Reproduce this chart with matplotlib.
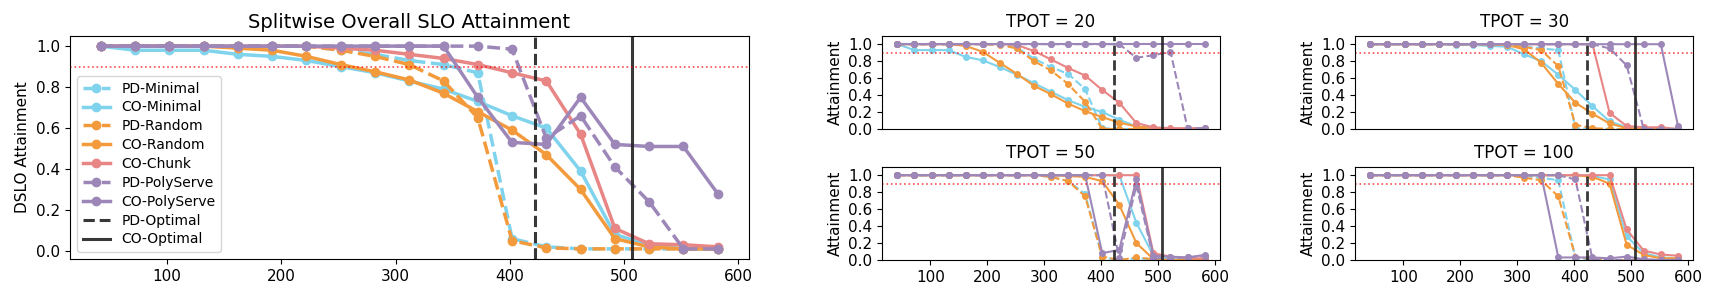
import matplotlib
matplotlib.use("Agg")
import matplotlib.pyplot as plt

# request rate points shared by every panel
rates = [42, 72, 102, 132, 162, 192, 222, 252, 282, 312, 342, 372, 402, 432, 462, 492, 522, 552, 582]

series_names = ["PD-Minimal", "CO-Minimal", "PD-Random", "CO-Random", "CO-Chunk", "PD-PolyServe", "CO-PolyServe"]
series_colors = ["#7fd3ed", "#7fd3ed", "#f39a3c", "#f39a3c", "#e88585", "#9c87b8", "#9c87b8"]

pd_optimal = 422
co_optimal = 507
slo_target = 0.9

overall = {
    "PD-Minimal": [1.0, 1.0, 1.0, 1.0, 1.0, 1.0, 1.0, 0.98, 0.96, 0.93, 0.91, 0.87, 0.06, 0.02, 0.01, 0.01, 0.01, 0.01, 0.01],
    "CO-Minimal": [1.0, 0.98, 0.98, 0.98, 0.96, 0.95, 0.93, 0.90, 0.87, 0.83, 0.79, 0.73, 0.66, 0.60, 0.39, 0.08, 0.03, 0.01, 0.01],
    "PD-Random": [1.0, 1.0, 1.0, 1.0, 1.0, 1.0, 1.0, 0.98, 0.95, 0.91, 0.83, 0.65, 0.05, 0.015, 0.01, 0.01, 0.01, 0.01, 0.01],
    "CO-Random": [1.0, 1.0, 1.0, 1.0, 0.99, 0.98, 0.95, 0.91, 0.875, 0.835, 0.77, 0.68, 0.59, 0.47, 0.30, 0.06, 0.02, 0.01, 0.01],
    "CO-Chunk": [1.0, 1.0, 1.0, 1.0, 1.0, 1.0, 1.0, 0.99, 0.98, 0.96, 0.94, 0.91, 0.87, 0.83, 0.57, 0.11, 0.035, 0.03, 0.02],
    "PD-PolyServe": [1.0, 1.0, 1.0, 1.0, 1.0, 1.0, 1.0, 1.0, 1.0, 1.0, 1.0, 1.0, 0.985, 0.55, 0.66, 0.41, 0.24, 0.01, 0.01],
    "CO-PolyServe": [1.0, 1.0, 1.0, 1.0, 1.0, 1.0, 1.0, 1.0, 1.0, 1.0, 1.0, 0.75, 0.53, 0.52, 0.75, 0.52, 0.51, 0.51, 0.28],
}

tpot20 = {
    "PD-Minimal": [1.0, 1.0, 1.0, 1.0, 1.0, 1.0, 1.0, 0.96, 0.83, 0.73, 0.65, 0.47, 0.01, 0.0, 0.0, 0.0, 0.0, 0.0, 0.0],
    "CO-Minimal": [1.0, 0.93, 0.93, 0.93, 0.85, 0.81, 0.73, 0.64, 0.54, 0.44, 0.34, 0.26, 0.20, 0.11, 0.03, 0.01, 0.0, 0.0, 0.0],
    "PD-Random": [1.0, 1.0, 1.0, 1.0, 1.0, 1.0, 0.99, 0.95, 0.80, 0.69, 0.53, 0.32, 0.0, 0.0, 0.0, 0.0, 0.0, 0.0, 0.0],
    "CO-Random": [1.0, 1.0, 1.0, 1.0, 0.98, 0.91, 0.78, 0.65, 0.51, 0.41, 0.30, 0.21, 0.14, 0.075, 0.03, 0.01, 0.0, 0.0, 0.0],
    "CO-Chunk": [1.0, 1.0, 1.0, 1.0, 1.0, 1.0, 1.0, 0.99, 0.92, 0.82, 0.72, 0.63, 0.46, 0.31, 0.07, 0.02, 0.01, 0.01, 0.01],
    "PD-PolyServe": [1.0, 1.0, 1.0, 1.0, 1.0, 1.0, 1.0, 1.0, 1.0, 1.0, 1.0, 1.0, 1.0, 1.0, 0.84, 0.87, 0.91, 0.01, 0.01],
    "CO-PolyServe": [1.0] * 19,
}

tpot30 = {
    "PD-Minimal": [1.0, 1.0, 1.0, 1.0, 1.0, 1.0, 1.0, 1.0, 0.99, 0.97, 0.95, 0.93, 0.01, 0.0, 0.0, 0.0, 0.0, 0.0, 0.0],
    "CO-Minimal": [1.0, 1.0, 1.0, 1.0, 1.0, 0.99, 0.99, 0.98, 0.97, 0.88, 0.80, 0.64, 0.46, 0.27, 0.09, 0.02, 0.01, 0.0, 0.0],
    "PD-Random": [1.0, 1.0, 1.0, 1.0, 1.0, 1.0, 1.0, 1.0, 0.99, 0.97, 0.93, 0.74, 0.05, 0.01, 0.0, 0.0, 0.0, 0.0, 0.0],
    "CO-Random": [1.0, 1.0, 1.0, 1.0, 1.0, 1.0, 1.0, 1.0, 0.99, 0.94, 0.78, 0.53, 0.31, 0.18, 0.065, 0.01, 0.0, 0.0, 0.0],
    "CO-Chunk": [1.0, 1.0, 1.0, 1.0, 1.0, 1.0, 1.0, 1.0, 1.0, 1.0, 1.0, 1.0, 1.0, 1.0, 0.19, 0.035, 0.02, 0.02, 0.0],
    "PD-PolyServe": [1.0, 1.0, 1.0, 1.0, 1.0, 1.0, 1.0, 1.0, 1.0, 1.0, 1.0, 1.0, 1.0, 1.0, 0.95, 0.75, 0.0, 0.0, 0.0],
    "CO-PolyServe": [1.0, 1.0, 1.0, 1.0, 1.0, 1.0, 1.0, 1.0, 1.0, 1.0, 1.0, 1.0, 1.0, 1.0, 1.0, 1.0, 1.0, 1.0, 0.04],
}

tpot50 = {
    "PD-Minimal": [1.0, 1.0, 1.0, 1.0, 1.0, 1.0, 1.0, 1.0, 1.0, 0.98, 0.93, 0.78, 0.03, 0.0, 0.02, 0.01, 0.0, 0.0, 0.0],
    "CO-Minimal": [1.0, 1.0, 1.0, 1.0, 1.0, 1.0, 1.0, 1.0, 1.0, 1.0, 1.0, 1.0, 1.0, 1.0, 0.44, 0.05, 0.01, 0.01, 0.01],
    "PD-Random": [1.0, 1.0, 1.0, 1.0, 1.0, 1.0, 1.0, 1.0, 1.0, 0.98, 0.93, 0.75, 0.04, 0.0, 0.03, 0.01, 0.0, 0.0, 0.0],
    "CO-Random": [1.0, 1.0, 1.0, 1.0, 1.0, 1.0, 1.0, 1.0, 1.0, 1.0, 0.99, 0.98, 0.93, 0.65, 0.20, 0.01, 0.0, 0.0, 0.0],
    "CO-Chunk": [1.0, 1.0, 1.0, 1.0, 1.0, 1.0, 1.0, 1.0, 1.0, 1.0, 1.0, 1.0, 1.0, 1.0, 1.0, 0.08, 0.04, 0.02, 0.02],
    "PD-PolyServe": [1.0, 1.0, 1.0, 1.0, 1.0, 1.0, 1.0, 1.0, 1.0, 1.0, 1.0, 1.0, 1.0, 0.02, 0.88, 0.02, 0.02, 0.03, 0.05],
    "CO-PolyServe": [1.0, 1.0, 1.0, 1.0, 1.0, 1.0, 1.0, 1.0, 1.0, 1.0, 1.0, 1.0, 0.08, 0.12, 0.95, 0.05, 0.04, 0.03, 0.06],
}

tpot100 = {
    "PD-Minimal": [1.0, 1.0, 1.0, 1.0, 1.0, 1.0, 1.0, 1.0, 1.0, 0.99, 0.97, 0.94, 0.02, 0.0, 0.0, 0.0, 0.0, 0.0, 0.0],
    "CO-Minimal": [1.0, 1.0, 1.0, 1.0, 1.0, 1.0, 1.0, 1.0, 1.0, 1.0, 1.0, 1.0, 1.0, 0.99, 0.95, 0.28, 0.08, 0.03, 0.02],
    "PD-Random": [1.0, 1.0, 1.0, 1.0, 1.0, 1.0, 1.0, 1.0, 1.0, 0.97, 0.94, 0.75, 0.04, 0.01, 0.0, 0.0, 0.0, 0.0, 0.0],
    "CO-Random": [1.0, 1.0, 1.0, 1.0, 1.0, 1.0, 1.0, 1.0, 1.0, 1.0, 1.0, 1.0, 1.0, 0.98, 0.90, 0.18, 0.06, 0.02, 0.02],
    "CO-Chunk": [1.0, 1.0, 1.0, 1.0, 1.0, 1.0, 1.0, 1.0, 1.0, 1.0, 1.0, 1.0, 1.0, 1.0, 1.0, 0.36, 0.11, 0.065, 0.05],
    "PD-PolyServe": [1.0, 1.0, 1.0, 1.0, 1.0, 1.0, 1.0, 1.0, 1.0, 1.0, 1.0, 1.0, 0.95, 0.01, 0.0, 0.0, 0.0, 0.0, 0.0],
    "CO-PolyServe": [1.0, 1.0, 1.0, 1.0, 1.0, 1.0, 1.0, 1.0, 1.0, 1.0, 1.0, 0.03, 0.03, 0.03, 0.02, 0.04, 0.01, 0.0, 0.0],
}

sub_panels = [("TPOT = 20", tpot20), ("TPOT = 30", tpot30), ("TPOT = 50", tpot50), ("TPOT = 100", tpot100)]

W, H = 1716, 299


def px_axes(fig, left, top, right, bottom):
    # axes placed by pixel box of the reference
    return fig.add_axes([left / W, 1 - bottom / H, (right - left) / W, (bottom - top) / H])


def draw_panel(ax, data, lw, ms, vlw):
    for name, color in zip(series_names, series_colors):
        ls = "--" if name.startswith("PD") else "-"
        ax.plot(rates, data[name], linestyle=ls, color=color, marker="o",
                linewidth=lw, markersize=ms, label=name)
    ax.axvline(pd_optimal, color="#222222", linestyle="--", linewidth=vlw, alpha=0.9, label="PD-Optimal")
    ax.axvline(co_optimal, color="#222222", linestyle="-", linewidth=vlw, alpha=0.9, label="CO-Optimal")
    ax.axhline(slo_target, color="red", linestyle=":", linewidth=1.2, alpha=0.7)


fig = plt.figure(figsize=(W / 100, H / 100), dpi=100)

# overall panel
ax = px_axes(fig, 70, 36, 748.5, 259)
draw_panel(ax, overall, 2.5, 6, 2.2)
ax.set_title("Splitwise Overall SLO Attainment", fontsize=14)
ax.set_ylabel("DSLO Attainment", fontsize=11)
ax.set_xticks([100, 200, 300, 400, 500, 600])
ax.set_yticks([0.0, 0.2, 0.4, 0.6, 0.8, 1.0])
ax.tick_params(labelsize=11)
ax.legend(loc="lower left", fontsize=10, labelspacing=0.35)

# per-TPOT panels
boxes = [(882, 35.7, 1220, 129), (1355, 35.7, 1693.3, 129),
         (882, 166.7, 1220, 260), (1355, 166.7, 1693.3, 260)]
for (title, data), box in zip(sub_panels, boxes):
    sax = px_axes(fig, *box)
    draw_panel(sax, data, 1.5, 4, 2.0)
    sax.set_title(title, fontsize=12)
    sax.set_ylabel("Attainment", fontsize=11)
    sax.set_ylim(0, 1.1)
    sax.set_yticks([0.0, 0.2, 0.4, 0.6, 0.8, 1.0])
    sax.set_xlim(15, 609)
    sax.tick_params(labelsize=11)
    if box[1] < 100:
        sax.tick_params(bottom=False, labelbottom=False)
    else:
        sax.set_xticks([100, 200, 300, 400, 500, 600])

fig.savefig("out.png", dpi=100)
